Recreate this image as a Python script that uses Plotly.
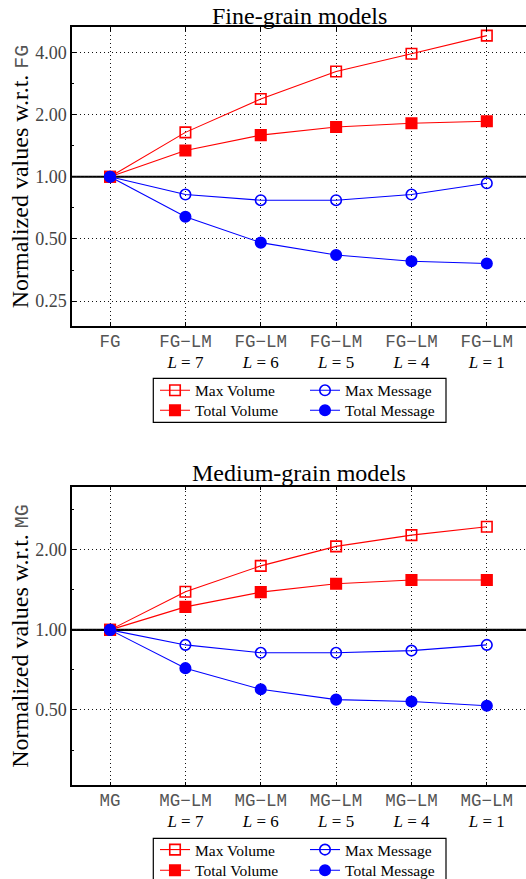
import plotly.graph_objects as go

# ---------------- data ----------------
fg_groups = ["FG", "FG−LM", "FG−LM", "FG−LM", "FG−LM", "FG−LM"]
mg_groups = ["MG", "MG−LM", "MG−LM", "MG−LM", "MG−LM", "MG−LM"]
levels = [None, 7, 6, 5, 4, 1]

fg_max_volume = [1.0, 1.64, 2.38, 3.23, 3.94, 4.82]
fg_total_volume = [1.0, 1.34, 1.59, 1.74, 1.815, 1.856]
fg_max_message = [1.0, 0.82, 0.77, 0.77, 0.82, 0.93]
fg_total_message = [1.0, 0.64, 0.48, 0.418, 0.39, 0.38]

mg_max_volume = [1.0, 1.39, 1.74, 2.06, 2.27, 2.44]
mg_total_volume = [1.0, 1.22, 1.386, 1.49, 1.54, 1.54]
mg_max_message = [1.0, 0.878, 0.82, 0.82, 0.836, 0.878]
mg_total_message = [1.0, 0.718, 0.598, 0.547, 0.538, 0.519]

fg_yticks = [0.25, 0.5, 1.0, 2.0, 4.0]
mg_yticks = [0.5, 1.0, 2.0]
minor_y = [2 ** (k + 0.5) for k in range(-4, 3)]

SERIF = "Liberation Serif, serif"
GRAY = "#555555"

series_names = ["Max Volume", "Total Volume", "Max Message", "Total Message"]
series_style = {
    "Max Volume": dict(color="#ff0000", symbol="square-open", col=0, row=0),
    "Total Volume": dict(color="#ff0000", symbol="square", col=0, row=1),
    "Max Message": dict(color="#0000ff", symbol="circle-open", col=1, row=0),
    "Total Message": dict(color="#0000ff", symbol="circle", col=1, row=1),
}


def tick_text(groups):
    out = []
    for g, l in zip(groups, levels):
        first = f"<span style='font-family:Liberation Mono;font-size:17.5px;color:{GRAY}'>{g}</span>"
        if l is None:
            out.append(first)
        else:
            out.append(f"{first}<br><span style='font-size:17px'><i>L</i> = {l}</span>")
    return out


W, H = 526, 879
x_dom = [72 / W, 1.0]
top_dom = [1 - 326 / H, 1 - 27 / H]
bot_dom = [1 - 785.3 / H, 1 - 486.7 / H]
xrange_ = [-0.505, 5.52]

# legend layout (pixels): column x positions, row centres per panel, box per panel
leg_cols = [155, 305]
leg_rows = {"top": [390.7, 410.7], "bot": [850.0, 870.7]}
leg_box = {"top": (153.3, 378.3, 446, 422.3), "bot": (153.3, 838.3, 446, 882)}

fig = go.Figure()

panels = [
    ("top", "x", "y", [fg_max_volume, fg_total_volume, fg_max_message, fg_total_message]),
    ("bot", "x2", "y2", [mg_max_volume, mg_total_volume, mg_max_message, mg_total_message]),
]

xs = list(range(len(levels)))
legends = {}
k = 0
for pid, xa, ya, vals in panels:
    for name, v in zip(series_names, vals):
        st = series_style[name]
        k += 1
        leg = "legend" if k == 1 else f"legend{k}"
        legends[leg] = dict(
            orientation="v", x=leg_cols[st["col"]] / W, xanchor="left",
            y=1 - leg_rows[pid][st["row"]] / H, yanchor="middle",
            borderwidth=0, bgcolor="rgba(0,0,0,0)",
            font=dict(family=SERIF, size=15.5, color="black"),
        )
        fig.add_trace(go.Scatter(
            x=xs, y=v, name=name, mode="lines+markers",
            xaxis=xa, yaxis=ya, legend=leg,
            line=dict(color=st["color"], width=1.1),
            marker=dict(symbol=st["symbol"], size=10.5, color=st["color"],
                        line=dict(color=st["color"], width=1.6)),
        ))

axis_common_x = dict(
    range=xrange_, tickmode="array", tickvals=xs, automargin=False,
    showgrid=True, gridcolor="#111111", gridwidth=1, griddash="1px,3px",
    showline=True, linecolor="black", linewidth=1.5, mirror="ticks",
    ticks="inside", ticklen=4, tickcolor="black",
    tickfont=dict(family=SERIF, size=16, color="black"),
    zeroline=False,
)
axis_common_y = dict(
    type="log", tickmode="array", automargin=False,
    showgrid=True, gridcolor="#111111", gridwidth=1, griddash="1px,3px",
    showline=True, linecolor="black", linewidth=1.5, mirror=False,
    ticks="inside", ticklen=4, tickcolor="black",
    tickfont=dict(family=SERIF, size=18, color="#444444"),
    minor=dict(tickmode="array", tickvals=minor_y, ticks="inside", ticklen=2.5,
               tickcolor="black", showgrid=False),
    zeroline=False,
)

ylab = ("Normalized values w.r.t. "
        "<span style='font-family:Liberation Mono;font-size:20px;color:{g}'>{t}</span>")

fig.update_layout(
    template="none",
    width=W, height=H,
    margin=dict(l=0, r=0, t=0, b=0, autoexpand=False),
    font=dict(family=SERIF, color="black"),
    plot_bgcolor="white", paper_bgcolor="white",
    showlegend=True,
    xaxis=dict(axis_common_x, domain=x_dom, anchor="y", ticktext=tick_text(fg_groups)),
    yaxis=dict(axis_common_y, domain=top_dom, anchor="x",
               range=[-0.7225, 0.7249], tickvals=fg_yticks,
               ticktext=[f"{t:.2f}" for t in fg_yticks],
               title=dict(text=ylab.format(g=GRAY, t="FG"),
                          font=dict(family=SERIF, size=24, color="black"), standoff=0)),
    xaxis2=dict(axis_common_x, domain=x_dom, anchor="y2", ticktext=tick_text(mg_groups)),
    yaxis2=dict(axis_common_y, domain=bot_dom, anchor="x2",
                range=[-0.584, 0.538], tickvals=mg_yticks,
                ticktext=[f"{t:.2f}" for t in mg_yticks],
                title=dict(text=ylab.format(g=GRAY, t="MG"),
                           font=dict(family=SERIF, size=24, color="black"), standoff=0)),
    annotations=[
        dict(text="Fine-grain models", xref="paper", yref="paper",
             x=299 / W, y=1 - 15.5 / H, xanchor="center", yanchor="middle",
             showarrow=False, font=dict(family=SERIF, size=24, color="black")),
        dict(text="Medium-grain models", xref="paper", yref="paper",
             x=299 / W, y=1 - 473 / H, xanchor="center", yanchor="middle",
             showarrow=False, font=dict(family=SERIF, size=24, color="black")),
    ],
)
fig.update_layout(**legends)

# legend frames
for pid in ["top", "bot"]:
    x0, y0, x1, y1 = leg_box[pid]
    fig.add_shape(type="rect", xref="paper", yref="paper",
                  x0=x0 / W, x1=x1 / W, y0=1 - y1 / H, y1=1 - y0 / H,
                  line=dict(color="black", width=1.2), fillcolor="rgba(0,0,0,0)",
                  layer="below")

# reference line at a normalized value of 1
for ya, xa in [("y", "x"), ("y2", "x2")]:
    fig.add_shape(type="line", xref=f"{xa} domain", yref=ya, x0=0, x1=1, y0=1, y1=1,
                  line=dict(color="black", width=2.2), layer="below")

fig.write_html("out.html", config={"displayModeBar": False},
               post_script="document.body.style.margin='0px';")
